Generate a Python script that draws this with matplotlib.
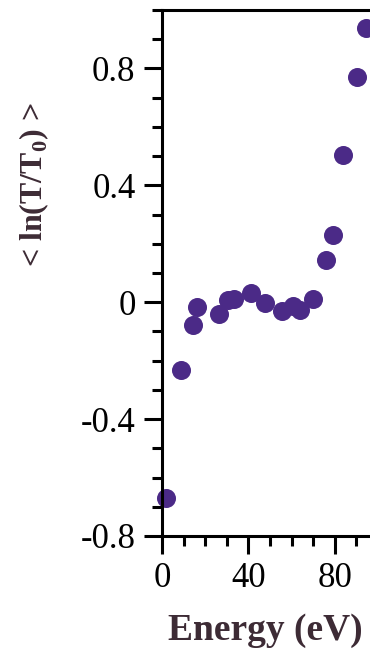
import matplotlib
matplotlib.use("Agg")
import matplotlib.pyplot as plt
from matplotlib.ticker import MultipleLocator

# values
energy = [1.85, 8.8, 14.5, 16.3, 26.4, 30.7, 33.3, 41.2, 47.7, 55.7,
          60.5, 63.9, 70.1, 75.8, 79.3, 83.6, 90.4, 94.4]
ln_ratio = [-0.671, -0.231, -0.079, -0.016, -0.042, 0.007, 0.010, 0.030, -0.002, -0.031,
            -0.013, -0.025, 0.010, 0.144, 0.230, 0.504, 0.771, 0.940]
x_ticks = [0, 40, 80]
y_ticks = [-0.8, -0.4, 0, 0.4, 0.8]
y_tick_labels = ["-0.8", "-0.4", "0", "0.4", "0.8"]

plt.rcParams["font.family"] = ["Liberation Serif", "DejaVu Serif"]
plt.rcParams["mathtext.fontset"] = "custom"
plt.rcParams["mathtext.rm"] = "Liberation Serif"
plt.rcParams["mathtext.bf"] = "Liberation Serif:bold"

label_color = "#3d2b35"
point_color = "#4b2a87"

fig = plt.figure(figsize=(3.7, 6.5), dpi=100)
ax = fig.add_axes([162 / 370, 114 / 650, 216 / 370, 526 / 650])

ax.plot(energy, ln_ratio, "o", color=point_color, markersize=13.7,
        markeredgewidth=0, clip_on=False)

ax.set_xlim(0, 100)
ax.set_ylim(-0.8, 1.0)
ax.set_xticks(x_ticks)
ax.set_xticklabels([str(t) for t in x_ticks])
ax.set_yticks(y_ticks)
ax.set_yticklabels(y_tick_labels)
ax.xaxis.set_minor_locator(MultipleLocator(10))
ax.yaxis.set_minor_locator(MultipleLocator(0.1))

for s in ax.spines.values():
    s.set_linewidth(2.2)
ax.spines["right"].set_visible(False)

ax.tick_params(which="major", direction="out", length=13, width=2.2,
               labelsize=25, pad=6)
ax.tick_params(which="minor", direction="out", length=7.5, width=2.2)

fig.text(265 / 370, 1 - 630 / 650, "Energy (eV)", fontsize=27, fontweight="bold",
         color=label_color, ha="center", va="center")
fig.text(34 / 370, 1 - 185 / 650, r"< ln(T/T$_\mathbf{0}$) >", fontsize=23,
         fontweight="bold", color=label_color, ha="center", va="center",
         rotation=90)

fig.savefig("out.png", dpi=100)
plt.close(fig)
